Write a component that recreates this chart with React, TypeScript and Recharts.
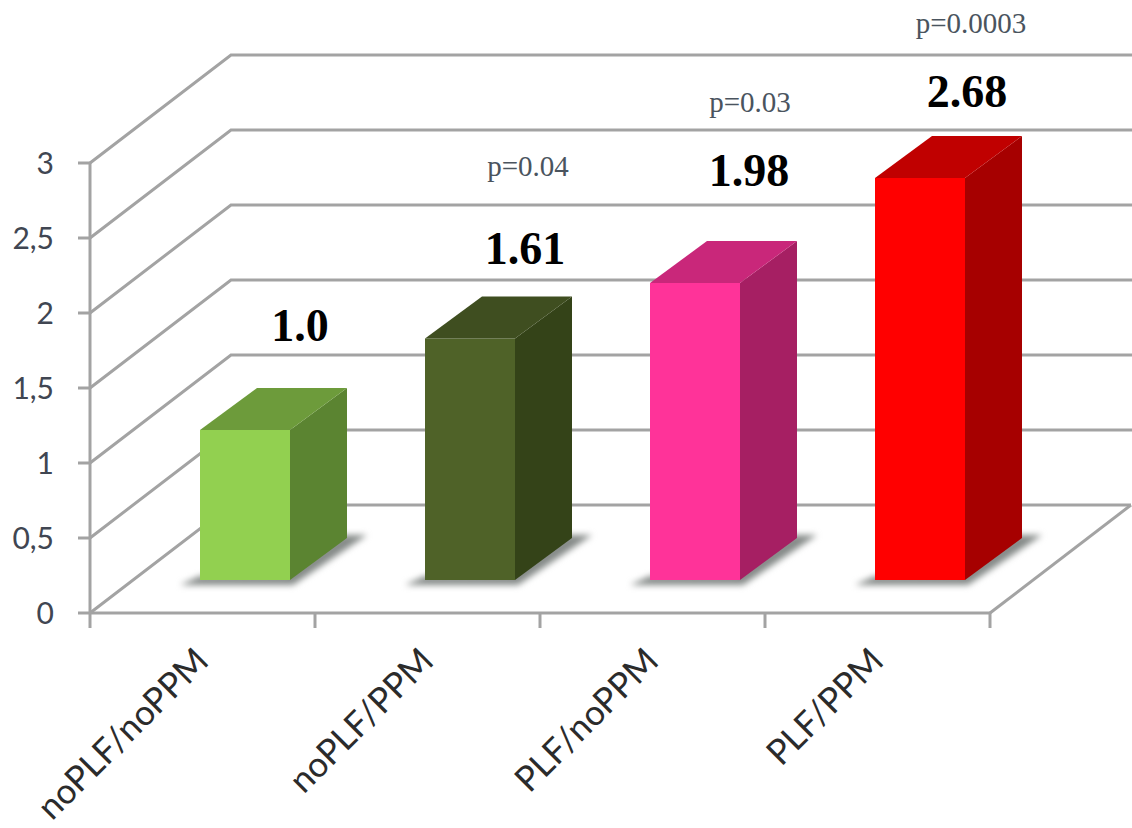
import * as React from 'react';
import { Bar, BarChart, LabelList, XAxis, YAxis } from 'recharts';

const categories = ['noPLF/noPPM', 'noPLF/PPM', 'PLF/noPPM', 'PLF/PPM'];
const ratios = [1.0, 1.61, 1.98, 2.68];
const ratioLabels = ['1.0', '1.61', '1.98', '2.68'];
const pLabels = ['', 'p=0.04', 'p=0.03', 'p=0.0003'];
const yTicks = [0, 0.5, 1, 1.5, 2, 2.5, 3];

const frontColors = ['#92d050', '#4f6228', '#ff3399', '#ff0000'];
const sideColors = ['#5b8431', '#344318', '#a61f63', '#a60000'];
const topColors = ['#6d9b3b', '#3f4e20', '#c9277a', '#c00000'];

// text placement relative to each bar
const ratioLift = [137, 123, 145, 119];
const ratioShift = [-2, -2, -3, -10];
const pLift = [0, 205, 213, 187];
const pShift = [0, 1, -2, -6];

const chartData = categories.map((name, i) => ({ name, ratio: ratios[i] }));

const GRID = '#a3a3a3';
const WALL_DX = 141;
const WALL_DY = 108;
const BAND = 225;
const RIGHT_EDGE = 990;

// bars stand part way back on the floor
const BAR_DX = 42;
const BAR_DY = 33;
const DEPTH_X = 57;
const DEPTH_Y = 42;

const WIDTH = 1132;
const HEIGHT = 828;
const AXIS_WIDTH = 90;
const AXIS_HEIGHT = 215;

function Bar3D(props: any) {
  const { x, y, width, height, index } = props;
  const left = x + BAR_DX;
  const right = left + width;
  const top = y - BAR_DY;
  const base = y + height - BAR_DY;
  const pts = (list: number[][]) => list.map((p) => p.join(',')).join(' ');

  return (
    <g>
      <polygon
        points={pts([
          [left - 20, base + 5],
          [right + 3, base + 5],
          [right + DEPTH_X + 20, base - DEPTH_Y - 3],
          [right + DEPTH_X - 4, base - DEPTH_Y - 3],
          [right - 4, base - 5],
          [left, base - 4],
        ])}
        fill="#858a88"
        style={{ filter: 'blur(3px)' }}
      />
      <rect x={left} y={top} width={width} height={height} fill={frontColors[index]} />
      <polygon
        points={pts([
          [right, top],
          [right + DEPTH_X, top - DEPTH_Y],
          [right + DEPTH_X, base - DEPTH_Y],
          [right, base],
        ])}
        fill={sideColors[index]}
      />
      <polygon
        points={pts([
          [left, top],
          [left + DEPTH_X, top - DEPTH_Y],
          [right + DEPTH_X, top - DEPTH_Y],
          [right, top],
        ])}
        fill={topColors[index]}
      />
    </g>
  );
}

// y tick: label, tick mark and the gridline running along side wall and back wall
function WallTick(props: any) {
  const { x, y, payload } = props;
  const backY = y - WALL_DY;
  const isFloor = payload.value === 0;
  return (
    <g>
      <line x1={x - 12} y1={y} x2={x} y2={y} stroke={GRID} strokeWidth={3} />
      <polyline
        points={`${x},${y} ${x + WALL_DX},${backY} ${isFloor ? RIGHT_EDGE + WALL_DX : WIDTH},${backY}`}
        fill="none"
        stroke={GRID}
        strokeWidth={3}
      />
      {isFloor && (
        <line x1={RIGHT_EDGE} y1={y} x2={RIGHT_EDGE + WALL_DX} y2={backY} stroke={GRID} strokeWidth={3} />
      )}
      <text x={x - 36} y={y} dy={11} textAnchor="end" fontFamily="Lato" fontSize={30} fill="#404652">
        {String(payload.value).replace('.', ',')}
      </text>
    </g>
  );
}

function CategoryTick(props: any) {
  const { x, y, payload, index } = props;
  const edge = x - BAND / 2;
  const labelX = x + 8;
  const labelY = y + 50;
  return (
    <g>
      <line x1={edge} y1={y - 1} x2={edge} y2={y + 15} stroke={GRID} strokeWidth={3} />
      {index === categories.length - 1 && (
        <line x1={edge + BAND} y1={y - 1} x2={edge + BAND} y2={y + 15} stroke={GRID} strokeWidth={3} />
      )}
      <text
        x={labelX}
        y={labelY}
        textAnchor="end"
        fontFamily="Lato"
        fontSize={35}
        fill="#2b2b2b"
        transform={`rotate(-45 ${labelX} ${labelY})`}
      >
        {payload.value}
      </text>
    </g>
  );
}

function BarCaption(props: any) {
  const { x, y, width, index } = props;
  const cx = x + width / 2 + BAR_DX + DEPTH_X;
  return (
    <g fontFamily="Liberation Serif" textAnchor="middle">
      <text x={cx + ratioShift[index]} y={y - ratioLift[index] + 15} fontSize={46} fontWeight={700} fill="#000000">
        {ratioLabels[index]}
      </text>
      {pLabels[index] && (
        <text x={cx + pShift[index]} y={y - pLift[index] + 9} fontSize={29} fill="#4a545e">
          {pLabels[index]}
        </text>
      )}
    </g>
  );
}

const layer = { position: 'absolute', left: 0, top: 0 } as const;

export default function App() {
  return (
    <div style={{ ...layer, width: WIDTH, height: HEIGHT, background: '#ffffff' }}>
      {/* axes and walls sit in their own layer so the bars always cover them */}
      <div style={layer}>
        <BarChart
          width={WIDTH}
          height={HEIGHT}
          data={chartData}
          margin={{ top: 163, right: 142, bottom: 0, left: 0 }}
        >
          <YAxis
            type="number"
            domain={[0, 3]}
            ticks={yTicks}
            width={AXIS_WIDTH}
            interval={0}
            tick={<WallTick />}
            tickLine={false}
            tickSize={0}
            tickMargin={0}
            axisLine={{ stroke: GRID, strokeWidth: 3 }}
          />
          <XAxis
            dataKey="name"
            height={AXIS_HEIGHT}
            interval={0}
            tick={<CategoryTick />}
            tickLine={false}
            tickSize={0}
            tickMargin={0}
            axisLine={{ stroke: GRID, strokeWidth: 3 }}
          />
          <Bar dataKey="ratio" fill="none" isAnimationActive={false} />
        </BarChart>
      </div>
      <div style={layer}>
        <BarChart
          width={WIDTH}
          height={HEIGHT}
          data={chartData}
          barSize={90}
          margin={{ top: 163, right: 142, bottom: AXIS_HEIGHT, left: AXIS_WIDTH }}
        >
          <YAxis type="number" domain={[0, 3]} hide />
          <XAxis dataKey="name" hide />
          <Bar dataKey="ratio" isAnimationActive={false} shape={<Bar3D />}>
            <LabelList dataKey="ratio" content={<BarCaption />} />
          </Bar>
        </BarChart>
      </div>
    </div>
  );
}
